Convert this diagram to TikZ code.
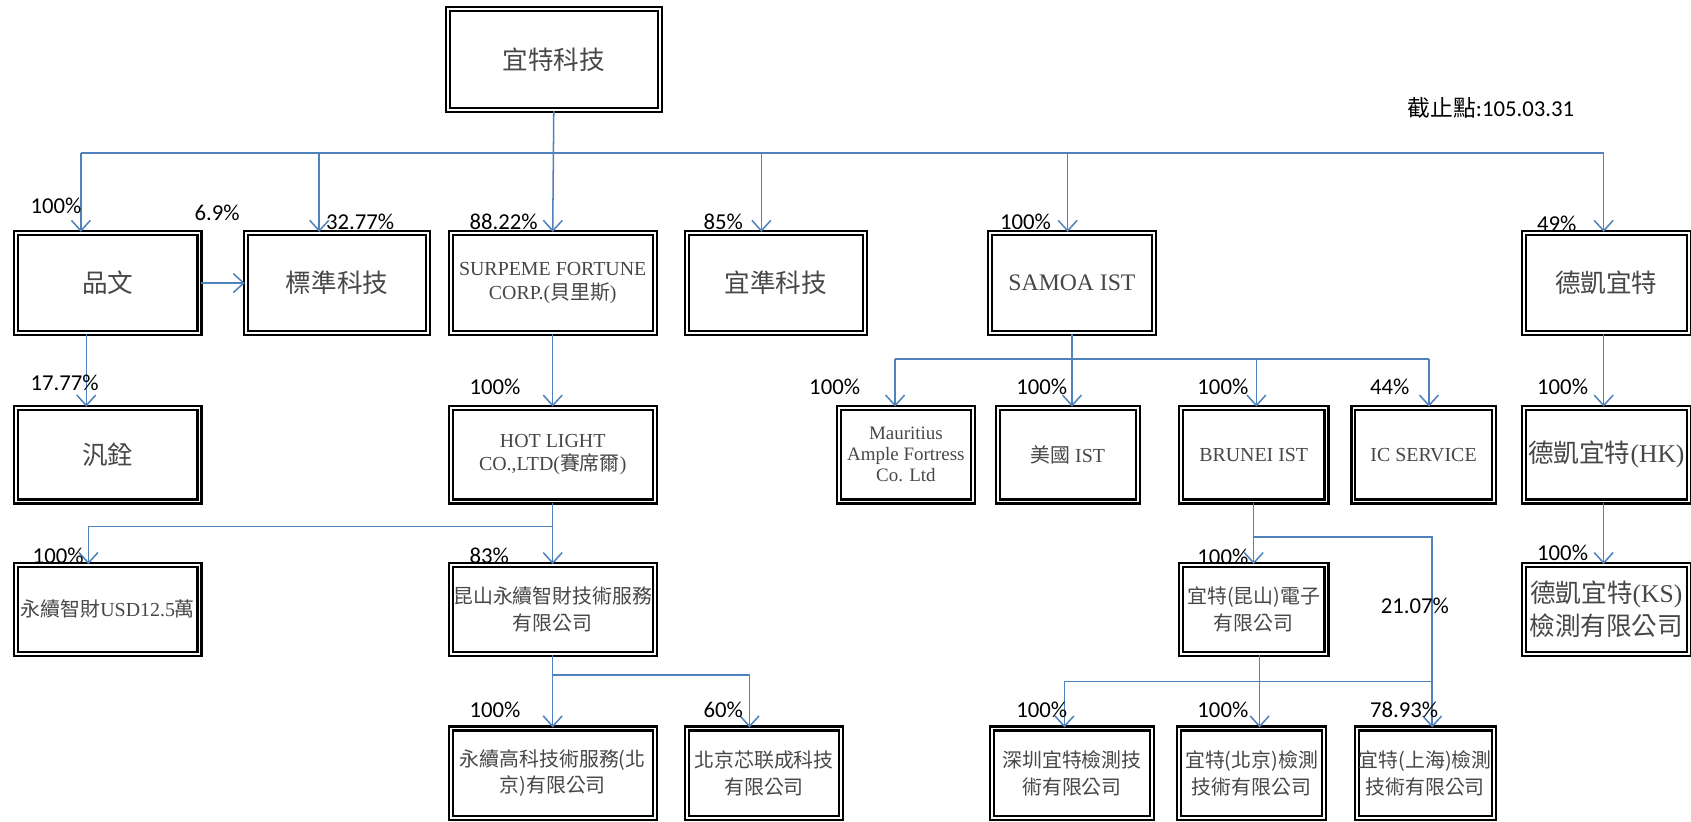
\documentclass[tikz,border=0pt]{standalone}
\usepackage{fontspec}
\setmainfont{Liberation Serif}
\newfontfamily\cjkfont{Noto Sans CJK TC}
\newfontfamily\pctfont{Carlito}
\usetikzlibrary{arrows.meta,calc}
\definecolor{linkblue}{rgb}{0.31,0.51,0.74}
\definecolor{boxtext}{rgb}{0.28,0.28,0.28}

\tikzset{
  box/.style={draw=black, line width=1.1pt, double=white, double distance=1pt, fill=white, align=center, inner sep=0pt, text=boxtext},
  wh/.style 2 args={minimum width=#1*0.02cm, minimum height=#2*0.02cm},
  big/.style={font=\fontsize{13.5}{17}\selectfont},
  small/.style={font=\fontsize{10.5}{14}\selectfont},
  latin/.style={font=\fontsize{10.5}{12.5}\selectfont},
  pct/.style={anchor=west, inner sep=0pt, font=\pctfont\fontsize{12}{14}\selectfont},
  link/.style={draw=linkblue, line width=0.8pt},
}

\begin{document}
\begin{tikzpicture}[x=0.02cm, y=-0.02cm, >={Straight Barb[length=5.5pt,width=10pt]}]
\useasboundingbox (0,0) rectangle (1568,762);

% boxes
\node[box, big, wh={197}{94}] (ist) at (513.5,55) {\cjkfont 宜特科技};
\node[box, big, wh={170}{93}] (pw) at (100,262.5) {\cjkfont 品文};
\node[box, big, wh={169}{93}] (bz) at (312.5,262.5) {\cjkfont 標準科技};
\node[box, latin, wh={189}{93}] (sf) at (512.5,262.5) {SURPEME FORTUNE\\CORP.({\cjkfont 貝里斯})};
\node[box, big, wh={165}{93}] (yz) at (719.5,262.5) {\cjkfont 宜準科技};
\node[box, font=\fontsize{12.5}{15}\selectfont, wh={152}{93}] (samoa) at (994,262.5) {SAMOA IST};
\node[box, big, wh={153}{93}] (dk) at (1489.5,262.5) {\cjkfont 德凱宜特};

\node[box, big, wh={170}{87}] (fq) at (100,421.5) {\cjkfont 汎銓};
\node[box, latin, wh={189}{87}] (hl) at (512.5,421.5) {HOT LIGHT\\CO.,LTD({\cjkfont 賽席爾})};
\node[box, font=\fontsize{10}{11}\selectfont, wh={124}{87}] (mau) at (840,421.5) {Mauritius\\Ample Fortress\\Co. Ltd};
\node[box, latin, wh={130}{87}] (us) at (990,421.5) {{\cjkfont 美國} IST};
\node[box, latin, wh={135}{87}] (br) at (1162.5,421.5) {BRUNEI IST};
\node[box, latin, wh={130}{87}] (ic) at (1320,421.5) {IC SERVICE};
\node[box, big, wh={153}{87}] (hk) at (1489.5,421.5) {{\cjkfont 德凱宜特}(HK)};

\node[box, small, wh={170}{82}] (yx) at (100,565) {{\cjkfont 永續智財}USD12.5{\cjkfont 萬}};
\node[box, small, wh={189}{82}] (ks) at (512.5,565) {\cjkfont 昆山永續智財技術服務\\\cjkfont 有限公司};
\node[box, small, wh={135}{82}] (kse) at (1162.5,565) {\cjkfont 宜特(昆山)電子\\\cjkfont 有限公司};
\node[box, big, wh={153}{82}] (dks) at (1489.5,565) {{\cjkfont 德凱宜特}(KS)\\\cjkfont 檢測有限公司};

\node[box, small, wh={189}{83}] (ykj) at (512.5,717) {\cjkfont 永續高科技術服務(北\\\cjkfont 京)有限公司};
\node[box, small, wh={143}{83}] (bjx) at (708.5,717) {\cjkfont 北京芯联成科技\\\cjkfont 有限公司};
\node[box, small, wh={148}{83}] (sz) at (994,717) {\cjkfont 深圳宜特檢測技\\\cjkfont 術有限公司};
\node[box, small, wh={135}{83}] (bj) at (1160.5,717) {\cjkfont 宜特(北京)檢測\\\cjkfont 技術有限公司};
\node[box, small, wh={127}{83}] (sh) at (1321.5,717) {\cjkfont 宜特(上海)檢測\\\cjkfont 技術有限公司};

\node[anchor=west, inner sep=0pt, font=\fontsize{12}{14}\selectfont] (date) at (1305,100) {{\cjkfont 截止點}{\pctfont :105.03.31}};

% bus lines
\coordinate (bus) at (0,142);
\coordinate (saBus) at (0,333);
\coordinate (hlBus) at (0,488);
\coordinate (brBus) at (0,498);
\coordinate (ksBus) at (0,626);
\coordinate (kBus) at (0,632);

% arrow entry points
\coordinate (pwIn) at ($(pw.north)+(-25,0)$);
\coordinate (bzIn) at ($(bz.north)+(-16.5,0)$);
\coordinate (yzIn) at ($(yz.north)+(-13.5,0)$);
\coordinate (saIn) at ($(samoa.north)+(-4,0)$);
\coordinate (dkIn) at ($(dk.north)+(-2.5,0)$);
\coordinate (pwOut) at ($(pw.south)+(-20,0)$);
\coordinate (yxIn) at ($(yx.north)+(-18,0)$);
\coordinate (mauIn) at ($(mau.north)+(-10,0)$);
\coordinate (brIn) at ($(br.north)+(2.5,0)$);
\coordinate (icIn) at ($(ic.north)+(5,0)$);
\coordinate (shIn) at ($(sh.north)+(6.5,0)$);
\coordinate (kseOut) at ($(kse.south)+(5.5,0)$);
\coordinate (szIn) at ($(sz.north)+(-7,0)$);
\coordinate (bjxIn) at ($(bjx.north)+(-13.5,0)$);

% connectors
\draw[link,->] (ist.south) -- (sf.north);
\draw[link] (pwIn |- bus) -- (dkIn |- bus);
\foreach \t in {pwIn,bzIn,yzIn,saIn,dkIn}
  \draw[link,->] (\t |- bus) -- (\t);
\draw[link,->] (pw.east) -- (bz.west);
\draw[link,->] (pwOut) -- (pwOut |- fq.north);

\draw[link,->] (sf.south) -- (hl.north);
\draw[link,->] (hl.south) -- (ks.north);
\draw[link,->] (hl.south |- hlBus) -| (yxIn);
\draw[link,->] (ks.south) -- (ykj.north);
\draw[link,->] (ks.south |- ksBus) -| (bjxIn);

\draw[link,->] (samoa.south) -- (samoa.south |- us.north);
\draw[link] (mauIn |- saBus) -- (icIn |- saBus);
\foreach \t in {mauIn,brIn,icIn}
  \draw[link,->] (\t |- saBus) -- (\t);
\draw[link,->] (br.south) -- (kse.north);
\draw[link,->] (br.south |- brBus) -| (shIn);
\draw[link,->] (kseOut) -- (kseOut |- bj.north);
\draw[link,->] (shIn |- kBus) -| (szIn);

\draw[link,->] (dkIn |- dk.south) -- (dkIn |- hk.north);
\draw[link,->] (dkIn |- hk.south) -- (dkIn |- dks.north);

% percentages
\node[pct] (pPw) at (28,191) {100\%};
\node[pct] (pBzA) at (180,197) {6.9\%};
\node[pct] (pBz) at (302,206) {32.77\%};
\node[pct] (pSf) at (435,206) {88.22\%};
\node[pct] (pYz) at (652,206) {85\%};
\node[pct] (pSa) at (927,206) {100\%};
\node[pct] (pDk) at (1425,208) {49\%};
\node[pct] (pFq) at (28,355) {17.77\%};
\node[pct] (pHl) at (435,359) {100\%};
\node[pct] (pMau) at (750,359) {100\%};
\node[pct] (pUs) at (942,359) {100\%};
\node[pct] (pBr) at (1110,359) {100\%};
\node[pct] (pIc) at (1270,359) {44\%};
\node[pct] (pHk) at (1425,359) {100\%};
\node[pct] (pYx) at (30,515) {100\%};
\node[pct] (pKs) at (435,515) {83\%};
\node[pct] (pKse) at (1110,516) {100\%};
\node[pct] (pSh2) at (1280,562) {21.07\%};
\node[pct] (pDks) at (1425,513) {100\%};
\node[pct] (pYkj) at (435,658) {100\%};
\node[pct] (pBjx) at (652,658) {60\%};
\node[pct] (pSz) at (942,658) {100\%};
\node[pct] (pBj) at (1110,658) {100\%};
\node[pct] (pSh) at (1270,658) {78.93\%};
\end{tikzpicture}
\end{document}
